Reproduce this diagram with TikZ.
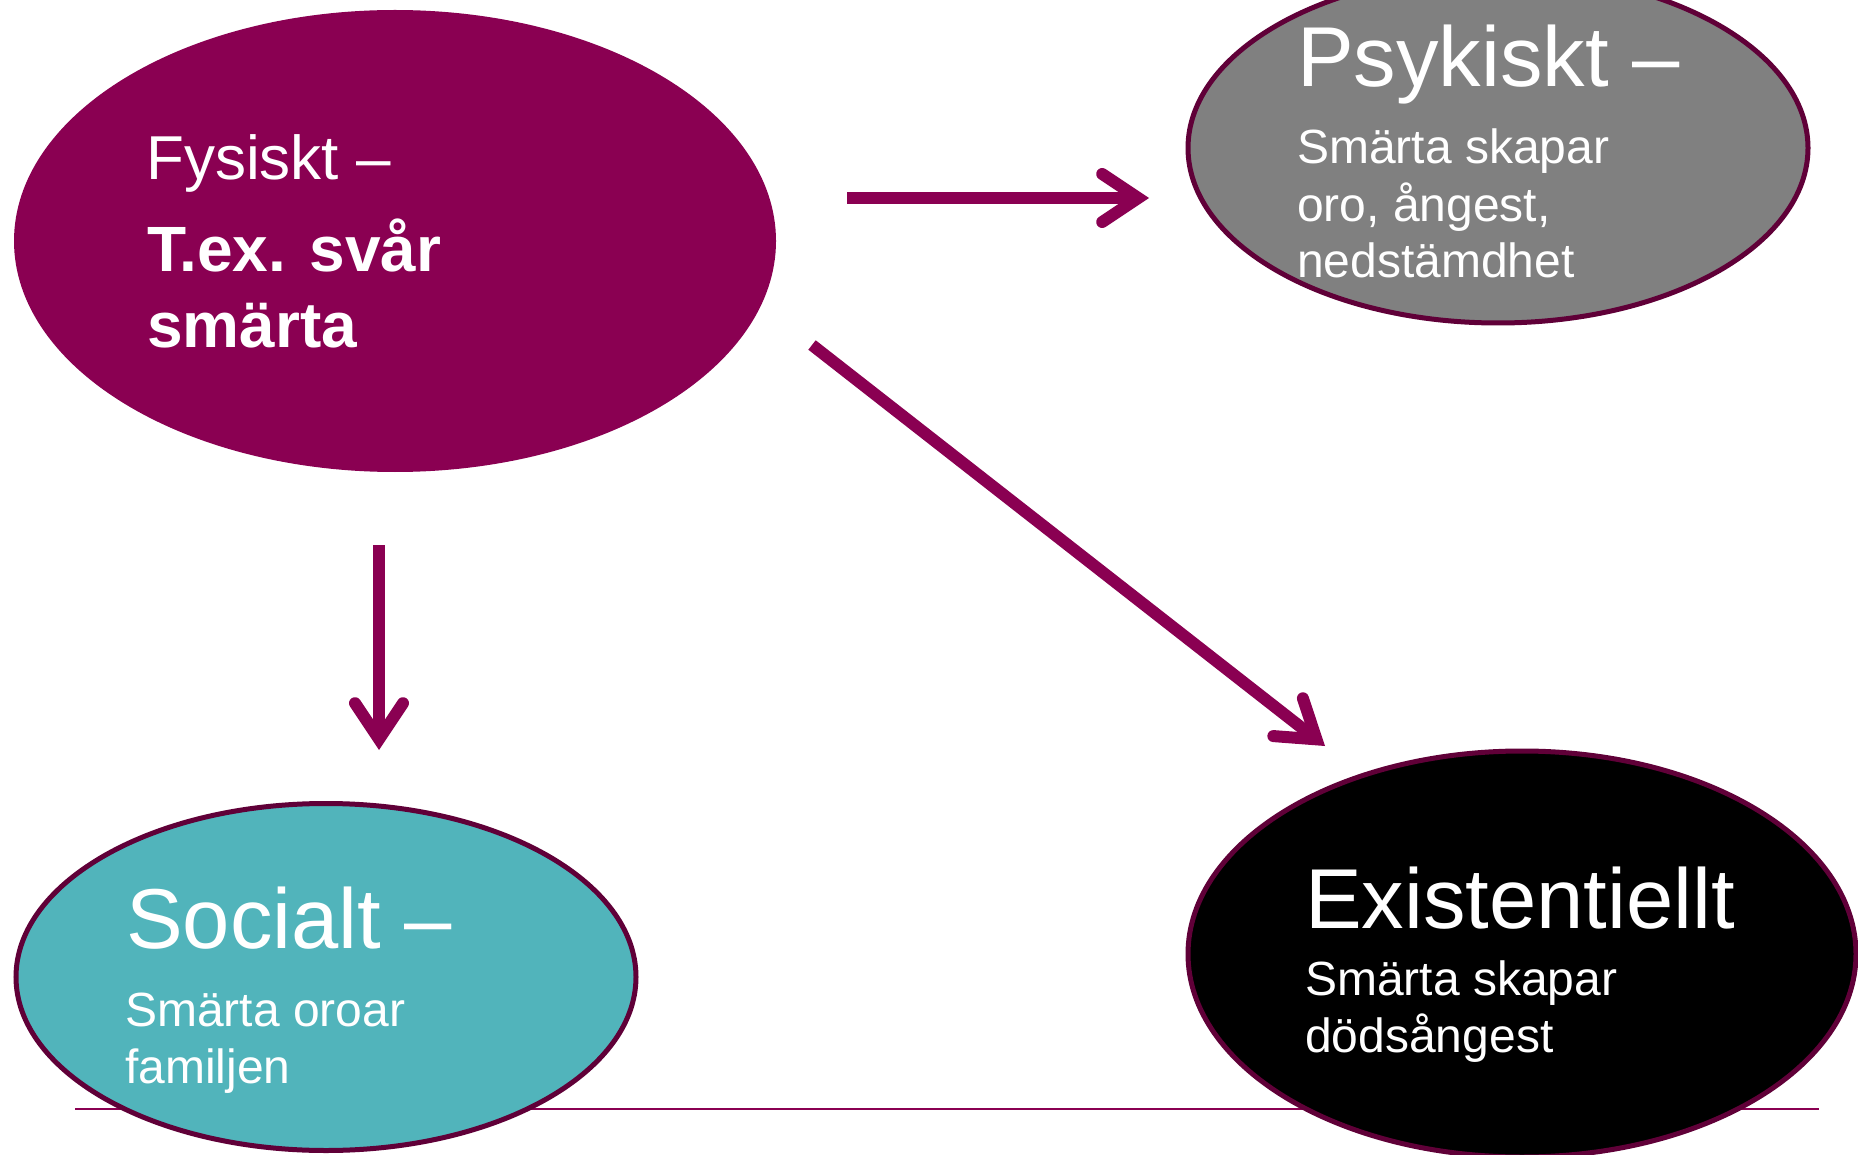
\documentclass[tikz,border=0pt]{standalone}
\usepackage{fontspec}
\setmainfont{Liberation Sans}
\usetikzlibrary{arrows.meta,shapes.geometric}
\definecolor{plum}{RGB}{138,0,82}
\definecolor{rim}{RGB}{96,0,56}
\definecolor{stone}{RGB}{128,128,128}
\definecolor{lagoon}{RGB}{81,180,187}

\begin{document}
\begin{tikzpicture}[x=1pt,y=-1pt,
  blob/.style={ellipse, inner sep=0pt, outer sep=0pt, line width=5pt},
  flow/.style={plum, line width=12pt,
    -{Straight Barb[length=36pt,width=48pt,line cap=round,line join=miter]}},
  title/.style={text=white, inner sep=0pt, anchor=base west,
    font=\fontsize{85}{85}\selectfont},
  body/.style={text=white, inner sep=0pt, anchor=base west,
    font=\fontsize{48}{48}\selectfont},
  lead/.style={text=white, inner sep=0pt, anchor=base west,
    font=\fontsize{62}{62}\selectfont},
  leadbold/.style={lead, font=\fontsize{64}{64}\selectfont\bfseries},
]
\useasboundingbox (0,0) rectangle (1858,1155);
\fill[white] (0,0) rectangle (1858,1155);

% thin rule running behind the two lower ellipses
\coordinate (ruleL) at (75,1109);
\coordinate (ruleR) at (1819,1109);
\draw[plum, line width=2pt] (ruleL) -- (ruleR);

% the four ellipses
\node[blob, fill=plum, minimum width=762pt, minimum height=462pt] (fys) at (395,241) {};
\node[blob, fill=stone, draw=rim, minimum width=620pt, minimum height=350pt] (psy) at (1498,148) {};
\node[blob, fill=lagoon, draw=rim, minimum width=620pt, minimum height=347pt] (soc) at (326,977) {};
\node[blob, fill=black, draw=rim, minimum width=668pt, minimum height=406pt] (exi) at (1522,954) {};

% texts
\node[lead] (fysT) at (146,180) {Fysiskt –};
\node[leadbold] (fysL1) at (147,272) {T.ex. svår};
\node[leadbold] (fysL2) at (147,348) {smärta};

\node[title] (psyT) at (1297,87) {Psykiskt –};
\node[body] (psyL1) at (1297,164) {Smärta skapar};
\node[body] (psyL2) at (1297,222) {oro, ångest,};
\node[body] (psyL3) at (1297,278) {nedstämdhet};

\node[title] (socT) at (126,948) {Socialt –};
\node[body] (socL1) at (125,1026) {Smärta oroar};
\node[body] (socL2) at (125,1083) {familjen};

\node[title] (exiT) at (1305,928) {Existentiellt};
\node[body] (exiL1) at (1305,995) {Smärta skapar};
\node[body] (exiL2) at (1305,1052) {dödsångest};

% arrows leading out of the physical pain ellipse
\coordinate (toPsyA) at (847,198);
\coordinate (toPsyB) at (1149,198);
\coordinate (toSocA) at (379,545);
\coordinate (toSocB) at (379,750);
\coordinate (toExiA) at (812,345);
\coordinate (toExiB) at (1325,746);
\draw[flow] (toPsyA) -- (toPsyB);
\draw[flow] (toSocA) -- (toSocB);
\draw[flow] (toExiA) -- (toExiB);
\end{tikzpicture}
\end{document}
